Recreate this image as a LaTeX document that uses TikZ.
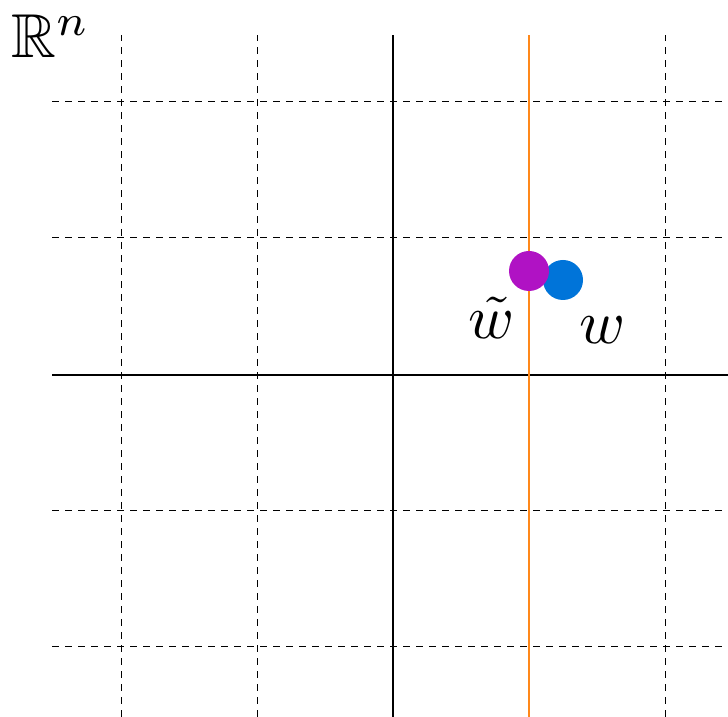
\documentclass[tikz,border=0pt]{standalone}
\usepackage{amssymb}
\definecolor{ptmag}{RGB}{176,18,196}
\definecolor{ptblue}{RGB}{0,116,217}
\definecolor{lnorange}{RGB}{255,136,26}
\begin{document}
\begin{tikzpicture}[x=1pt,y=1pt,
  gridline/.style={black,line width=1.0pt,dash pattern=on 7pt off 6pt},
  axisline/.style={black,line width=2.4pt},
  orangeline/.style={lnorange,line width=2.6pt},
  ptdot/.style={circle,inner sep=0pt,minimum size=40pt},
  biglabel/.style={inner sep=0pt,scale=6.2}]
\useasboundingbox (0,0) rectangle (728,717);
% dashed grid (vertical)
\foreach \px in {121,257,665} \draw[gridline] (\px,0) -- (\px,682);
% dashed grid (horizontal)
\foreach \py in {102,238,511,647} \draw[gridline] (52,717-\py) -- (728,717-\py);
% axes
\draw[axisline] (52,342) -- (728,342);
\draw[axisline] (393,0) -- (393,682);
% orange line
\draw[orangeline] (529,0) -- (529,682);
% points
\node[ptdot,fill=ptblue] (w) at (563,437) {};
\node[ptdot,fill=ptmag] (wt) at (529,446) {};
% labels
\node[biglabel,anchor=base] (wtl) at (492,378) {$\tilde{w}$};
\node[biglabel,anchor=base] (wl) at (603,373) {$w$};
\node[biglabel,anchor=base west] (Rn) at (10,659) {$\mathbb{R}^n$};
\end{tikzpicture}
\end{document}
